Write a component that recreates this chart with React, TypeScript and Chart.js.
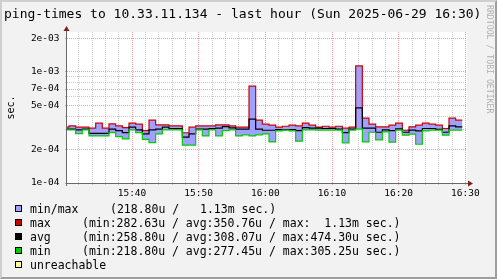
import React, { useEffect, useRef } from 'react';
import { Chart, registerables } from 'chart.js';

Chart.register(...registerables);

// ---------- text ----------
const TITLE = 'ping-times to 10.33.11.134 - last hour (Sun 2025-06-29 16:30)';
const WATERMARK = 'RRDTOOL / TOBI OETIKER';
const Y_TITLE = 'sec.';

// ---------- time axis (minutes after 15:30) ----------
const axisStartMin = 0.25;
const axisEndMin = 60.25;
const firstStepStartMin = -0.45;
const stepMin = 1;

// ---------- series (microseconds), one value per 1-minute step ----------
const maxUs = [
  318, 326, 318, 318, 311, 345, 311, 340, 326, 315,
  345, 338, 296, 367, 333, 333, 326, 326, 283, 318,
  326, 326, 326, 333, 333, 326, 318, 318, 743, 367,
  338, 331, 318, 324, 331, 326, 345, 331, 318, 324,
  318, 324, 311, 318, 1130, 383, 338, 320, 320, 331,
  345, 298, 320, 331, 345, 338, 331, 309, 383, 367,
];
const avgUs = [
  305, 305, 300, 305, 280, 280, 280, 305, 296, 284,
  318, 300, 276, 300, 305, 318, 309, 309, 258.8, 276,
  305, 305, 309, 311, 322, 313, 305, 305, 375, 305,
  298, 298, 302, 302, 302, 296, 315, 311, 311, 309,
  309, 305, 284, 305, 474.3, 311, 311, 286, 300, 296,
  307, 286, 299, 294, 309, 309, 304, 286, 326, 320,
];
const minUs = [
  300, 300, 278, 300, 265, 265, 265, 284, 261, 249,
  300, 284, 247, 231, 276, 300, 300, 300, 218.8, 218.8,
  300, 265, 300, 265, 296, 300, 265, 271, 265, 271,
  276, 234, 294, 299, 294, 238, 300, 300, 299, 299,
  299, 299, 229, 299, 305.25, 234, 286, 244, 288, 233,
  299, 269, 275, 223, 294, 299, 299, 269, 299, 299,
];

// ---------- ticks ----------
const xGridMinutes = [2, 4, 6, 8, 10, 12, 14, 16, 18, 20, 22, 24, 26, 28, 30, 32, 34, 36, 38, 40, 42, 44, 46, 48, 50, 52, 54, 56, 58, 60];
const xMajorMinutes = [10, 20, 30, 40, 50, 60];
const xTickLabels = ['15:40', '15:50', '16:00', '16:10', '16:20', '16:30'];

const yGridValues = [1e-4, 2e-4, 3e-4, 4e-4, 5e-4, 6e-4, 7e-4, 8e-4, 9e-4, 1e-3, 2e-3];
const yMajorValues = [1e-4, 2e-4, 5e-4, 7e-4, 1e-3, 2e-3];
const yTickLabels = ['1e-04', '2e-04', '5e-04', '7e-04', '1e-03', '2e-03'];
const yMin = 1e-4;
const yMax = 2.28e-3;

// ---------- legend ----------
const legendLabels = ['min/max', 'max', 'avg', 'min', 'unreachable'];
const legendStats = [
  '(218.80u /   1.13m sec.)',
  '(min:282.63u / avg:350.76u / max:  1.13m sec.)',
  '(min:258.80u / avg:308.07u / max:474.30u sec.)',
  '(min:218.80u / avg:277.45u / max:305.25u sec.)',
  '',
];
const legendColors = ['#a0a0ff', '#cc0000', '#000000', '#00cc00', '#ffffa0'];

const MONO = "'DejaVu Sans Mono'";
const MAJOR_GRID = 'rgba(222,80,80,0.55)';
const MINOR_GRID = 'rgba(143,143,143,0.45)';

const toPoints = (arr: number[]) => {
  const pts = arr.map((v, i) => ({ x: firstStepStartMin + i * stepMin, y: v / 1e6 }));
  pts.push({ x: firstStepStartMin + arr.length * stepMin, y: arr[arr.length - 1] / 1e6 });
  return pts;
};

const isYMajor = (v: number) => yMajorValues.some((m) => Math.abs(m - v) / m < 1e-6);

const rrdPlugin = {
  id: 'rrdDecor',
  beforeDraw(chart: any) {
    const { ctx, width, height, chartArea: a } = chart;
    ctx.save();
    ctx.fillStyle = '#f2f2f2';
    ctx.fillRect(0, 0, width, height);
    ctx.fillStyle = '#cfcfcf';
    ctx.beginPath();
    ctx.moveTo(0, height);
    ctx.lineTo(2, height - 2);
    ctx.lineTo(2, 2);
    ctx.lineTo(width - 2, 2);
    ctx.lineTo(width, 0);
    ctx.lineTo(0, 0);
    ctx.closePath();
    ctx.fill();
    ctx.fillStyle = '#9e9e9e';
    ctx.beginPath();
    ctx.moveTo(2, height - 2);
    ctx.lineTo(width - 2, height - 2);
    ctx.lineTo(width - 2, 2);
    ctx.lineTo(width, 0);
    ctx.lineTo(width, height);
    ctx.lineTo(0, height);
    ctx.closePath();
    ctx.fill();
    ctx.fillStyle = '#ffffff';
    ctx.fillRect(a.left, a.top, a.right - a.left, a.bottom - a.top);
    ctx.restore();
  },
  afterDraw(chart: any) {
    const { ctx, width, chartArea: a } = chart;
    ctx.save();
    // axes
    ctx.strokeStyle = '#6a6a6a';
    ctx.lineWidth = 1;
    ctx.beginPath();
    ctx.moveTo(a.left - 1, a.bottom + 0.5);
    ctx.lineTo(a.right + 3, a.bottom + 0.5);
    ctx.moveTo(a.left - 0.5, a.bottom + 3);
    ctx.lineTo(a.left - 0.5, a.top - 3);
    ctx.stroke();
    // arrows
    ctx.fillStyle = '#801f1f';
    ctx.beginPath();
    ctx.moveTo(a.right + 1, a.bottom + 0.5 - 3);
    ctx.lineTo(a.right + 1, a.bottom + 0.5 + 3);
    ctx.lineTo(a.right + 6, a.bottom + 0.5);
    ctx.closePath();
    ctx.fill();
    ctx.beginPath();
    ctx.moveTo(a.left - 0.5 - 3, a.top - 1);
    ctx.lineTo(a.left - 0.5 + 3, a.top - 1);
    ctx.lineTo(a.left - 0.5, a.top - 6);
    ctx.closePath();
    ctx.fill();
    // title
    ctx.fillStyle = '#000000';
    ctx.font = `13px ${MONO}`;
    ctx.textAlign = 'left';
    ctx.textBaseline = 'alphabetic';
    ctx.fillText(TITLE, 4, 18);
    // watermark
    ctx.save();
    ctx.translate(width - 10, 5);
    ctx.rotate(Math.PI / 2);
    ctx.font = `8.2px ${MONO}`;
    ctx.fillStyle = '#b0b0b0';
    ctx.textAlign = 'left';
    ctx.textBaseline = 'alphabetic';
    ctx.fillText(WATERMARK, 0, 0);
    ctx.restore();
    // legend
    ctx.font = `11.5px ${MONO}`;
    ctx.textAlign = 'left';
    ctx.textBaseline = 'alphabetic';
    const statsX = [110, 82, 82, 82, 82];
    legendLabels.forEach((label, i) => {
      const base = 213 + 14 * i;
      ctx.fillStyle = legendColors[i];
      ctx.fillRect(15, base - 8, 7, 7);
      ctx.strokeStyle = '#000000';
      ctx.lineWidth = 1;
      ctx.strokeRect(15.5, base - 7.5, 6, 6);
      ctx.fillStyle = '#000000';
      ctx.fillText(label, 30, base);
      if (legendStats[i]) ctx.fillText(legendStats[i], statsX[i], base);
    });
    ctx.restore();
  },
};

export default function App() {
  const canvasRef = useRef<HTMLCanvasElement | null>(null);

  useEffect(() => {
    if (!canvasRef.current) return;
    const chart = new Chart(canvasRef.current, {
      type: 'line',
      data: {
        datasets: [
          {
            label: 'min',
            data: toPoints(minUs),
            borderColor: '#00cc00',
            borderWidth: 1.2,
            pointRadius: 0,
            stepped: true,
            fill: false,
            order: 1,
          },
          {
            label: 'avg',
            data: toPoints(avgUs),
            borderColor: '#000000',
            borderWidth: 1.2,
            pointRadius: 0,
            stepped: true,
            fill: false,
            order: 2,
          },
          {
            label: 'max',
            data: toPoints(maxUs),
            borderColor: '#cc0000',
            backgroundColor: legendColors[0],
            borderWidth: 1.2,
            pointRadius: 0,
            stepped: true,
            fill: { target: 0 },
            order: 3,
          },
        ],
      },
      options: {
        animation: false,
        responsive: false,
        maintainAspectRatio: false,
        devicePixelRatio: 1,
        events: [],
        layout: { padding: { left: 0, top: 32, right: 30, bottom: 78 } },
        plugins: {
          legend: { display: false },
          tooltip: { enabled: false },
          title: { display: false },
          filler: { drawTime: 'beforeDatasetsDraw' },
        },
        scales: {
          x: {
            type: 'linear',
            min: axisStartMin,
            max: axisEndMin,
            afterFit: (s: any) => {
              s.height = 18;
            },
            afterBuildTicks: (s: any) => {
              s.ticks = xGridMinutes.map((v) => ({ value: v }));
            },
            border: { display: false, dash: [1, 1] },
            grid: {
              color: (c: any) => (xMajorMinutes.includes(c.tick?.value) ? MAJOR_GRID : MINOR_GRID),
              lineWidth: 1,
              tickLength: 2,
            },
            ticks: {
              autoSkip: false,
              maxRotation: 0,
              minRotation: 0,
              padding: 3,
              color: '#000000',
              font: { family: 'DejaVu Sans Mono', size: 9.5 },
              callback: (value: any) => {
                const i = xMajorMinutes.indexOf(Number(value));
                return i >= 0 ? xTickLabels[i] : '';
              },
            },
          },
          y: {
            type: 'logarithmic',
            min: yMin,
            max: yMax,
            afterFit: (s: any) => {
              s.width = 67;
            },
            afterBuildTicks: (s: any) => {
              s.ticks = yGridValues.map((v) => ({ value: v }));
            },
            border: { display: false, dash: [1, 1] },
            grid: {
              color: (c: any) => (c.tick && isYMajor(c.tick.value) ? MAJOR_GRID : MINOR_GRID),
              lineWidth: 1,
              tickLength: 2,
            },
            title: {
              display: true,
              text: Y_TITLE,
              color: '#000000',
              font: { family: 'DejaVu Sans Mono', size: 10 },
              padding: { top: 5.5, bottom: 0 },
            },
            ticks: {
              autoSkip: false,
              padding: 5.5,
              color: '#000000',
              font: { family: 'DejaVu Sans Mono', size: 9.5 },
              callback: (value: any) => {
                const i = yMajorValues.findIndex((m) => Math.abs(m - Number(value)) / m < 1e-6);
                return i >= 0 ? yTickLabels[i] : '';
              },
            },
          },
        },
      },
      plugins: [rrdPlugin],
    } as any);
    return () => chart.destroy();
  }, []);

  return (
    <div style={{ position: 'absolute', left: 0, top: 0, width: 497, height: 279 }}>
      <canvas ref={canvasRef} width={497} height={279} style={{ width: 497, height: 279, display: 'block' }} />
    </div>
  );
}
